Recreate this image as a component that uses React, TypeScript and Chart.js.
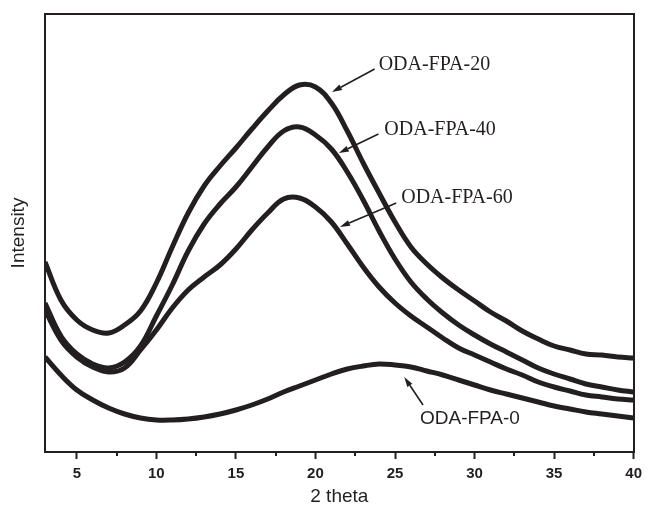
import React, { useEffect, useRef } from "react";
import { Chart, registerables } from "chart.js";

Chart.register(...registerables);

// 2θ positions (degrees)
const twoTheta = [3, 4, 5, 6, 7, 8, 9, 10, 11, 12, 13, 14, 15, 16, 17, 18, 19, 20, 21, 22, 23, 24, 25, 26, 27, 28, 29, 30, 31, 32, 33, 34, 35, 36, 37, 38, 39, 40];

// Intensities (arbitrary units, offset curves)
const oda20 = [190, 152, 132, 122, 119, 127, 141, 169, 205, 239, 266, 286, 304, 323, 341, 357, 367, 365, 349, 321, 289, 259, 230, 205, 188, 174, 162, 151, 140, 131, 121, 113, 106, 102, 98, 97, 95, 94];
const oda40 = [149, 116, 98, 88, 84, 90, 106, 136, 167, 201, 228, 248, 265, 285, 305, 321, 325, 317, 303, 280, 252, 221, 193, 170, 153, 139, 127, 117, 108, 100, 92, 84, 78, 73, 68, 65, 62, 60];
const oda60 = [142, 112, 95, 85, 80, 84, 102, 122, 144, 162, 175, 187, 203, 222, 239, 253, 254, 245, 230, 208, 185, 165, 149, 136, 125, 114, 104, 97, 90, 83, 77, 70, 65, 61, 57, 55, 53, 52];
const oda0 = [95, 77, 62, 52, 44, 38, 34, 32, 32, 33, 35, 38, 42, 47, 53, 60, 66, 72, 78, 83, 86, 88, 87, 85, 81, 77, 72, 67, 62, 58, 54, 50, 46, 43, 40, 38, 36, 34];

const majorTicks = [5, 10, 15, 20, 25, 30, 35, 40];
const minorTicks = [7.5, 12.5, 17.5, 22.5, 27.5, 32.5, 37.5];

// Annotations (data coordinates)
const labelNames = ["ODA-FPA-20", "ODA-FPA-40", "ODA-FPA-60", "ODA-FPA-0"];
const tipX = [21.04, 21.47, 21.54, 25.58];
const tipY = [360, 299, 225, 75];
const tailX = [23.72, 23.96, 25.08, 26.76];
const tailY = [383, 318, 249, 47];
const textX = [23.97, 24.33, 25.39, 26.57];
const textY = [387, 322, 254, 33];

const ink = "#231f20";

const annotationPlugin = {
  id: "annotations",
  afterDraw(chart: any) {
    const { ctx, scales, chartArea } = chart;
    const x = scales.x;
    const y = scales.y;
    ctx.save();
    // minor ticks
    ctx.strokeStyle = ink;
    ctx.lineWidth = 2;
    minorTicks.forEach((v) => {
      const px = Math.round(x.getPixelForValue(v));
      ctx.beginPath();
      ctx.moveTo(px, chartArea.bottom);
      ctx.lineTo(px, chartArea.bottom + 4);
      ctx.stroke();
    });
    // arrows + labels
    labelNames.forEach((name, i) => {
      const tx = x.getPixelForValue(tipX[i]);
      const ty = y.getPixelForValue(tipY[i]);
      const sx = x.getPixelForValue(tailX[i]);
      const sy = y.getPixelForValue(tailY[i]);
      const ang = Math.atan2(ty - sy, tx - sx);
      const head = 10;
      const half = 3;
      const bx = tx - head * Math.cos(ang);
      const by = ty - head * Math.sin(ang);
      ctx.strokeStyle = ink;
      ctx.fillStyle = ink;
      ctx.lineWidth = 1.6;
      ctx.beginPath();
      ctx.moveTo(sx, sy);
      ctx.lineTo(bx, by);
      ctx.stroke();
      ctx.beginPath();
      ctx.moveTo(tx, ty);
      ctx.lineTo(bx + half * Math.sin(ang), by - half * Math.cos(ang));
      ctx.lineTo(bx - half * Math.sin(ang), by + half * Math.cos(ang));
      ctx.closePath();
      ctx.fill();
      ctx.font = i < 3 ? '20px "Liberation Serif"' : '19px "Liberation Sans"';
      ctx.textBaseline = "middle";
      ctx.textAlign = "left";
      ctx.fillText(name, x.getPixelForValue(textX[i]), y.getPixelForValue(textY[i]));
    });
    ctx.restore();
  },
};

export default function App() {
  const canvasRef = useRef<HTMLCanvasElement | null>(null);

  useEffect(() => {
    if (!canvasRef.current) return;
    const mk = (label: string, values: number[]) => ({
      label,
      data: twoTheta.map((t, i) => ({ x: t, y: values[i] })),
      borderColor: ink,
      backgroundColor: ink,
      borderWidth: 5,
      pointRadius: 0,
      tension: 0.4,
      fill: false,
    });
    const chart = new Chart(canvasRef.current, {
      type: "line",
      data: {
        datasets: [
          mk("ODA-FPA-20", oda20),
          mk("ODA-FPA-40", oda40),
          mk("ODA-FPA-60", oda60),
          mk("ODA-FPA-0", oda0),
        ],
      },
      options: {
        responsive: false,
        animation: false,
        devicePixelRatio: 1,
        layout: { padding: { top: 14, right: 9, left: 0, bottom: 0 } },
        plugins: { legend: { display: false }, tooltip: { enabled: false } },
        scales: {
          x: {
            type: "linear",
            position: "bottom",
            min: 3,
            max: 40,
            afterBuildTicks: (s: any) => {
              s.ticks = majorTicks.map((v) => ({ value: v }));
            },
            ticks: {
              autoSkip: false,
              maxRotation: 0,
              padding: 6,
              color: ink,
              font: { family: '"Liberation Sans", Arial, sans-serif', size: 15, weight: "bold" },
            },
            grid: { drawOnChartArea: false, drawTicks: true, tickLength: 7, tickWidth: 2, tickColor: ink },
            border: { display: true, color: ink, width: 2 },
            title: {
              display: true,
              text: "2 theta",
              color: ink,
              font: { family: '"Liberation Sans", Arial, sans-serif', size: 19 },
              padding: { top: 0, bottom: 2 },
            },
            afterFit: (s: any) => {
              s.height = 58;
            },
          },
          y: {
            type: "linear",
            position: "left",
            min: 0,
            max: 438,
            ticks: { display: false },
            grid: { display: false },
            border: { display: true, color: ink, width: 2 },
            title: {
              display: true,
              text: "Intensity",
              color: ink,
              font: { family: '"Liberation Sans", Arial, sans-serif', size: 19 },
              padding: { top: 7, bottom: 0 },
            },
            afterFit: (s: any) => {
              s.width = 45;
            },
          },
          xTop: {
            type: "linear",
            position: "top",
            min: 3,
            max: 40,
            ticks: { display: false },
            grid: { display: false },
            border: { display: true, color: ink, width: 2 },
            afterFit: (s: any) => {
              s.height = 0;
            },
          },
          yRight: {
            type: "linear",
            position: "right",
            min: 0,
            max: 438,
            ticks: { display: false },
            grid: { display: false },
            border: { display: true, color: ink, width: 2 },
            afterFit: (s: any) => {
              s.width = 0;
            },
          },
        },
      },
      plugins: [annotationPlugin],
    });
    return () => chart.destroy();
  }, []);

  return (
    <div style={{ position: "fixed", left: 0, top: 0, width: 648, height: 510, background: "#fff" }}>
      <canvas ref={canvasRef} width={648} height={510} />
    </div>
  );
}
